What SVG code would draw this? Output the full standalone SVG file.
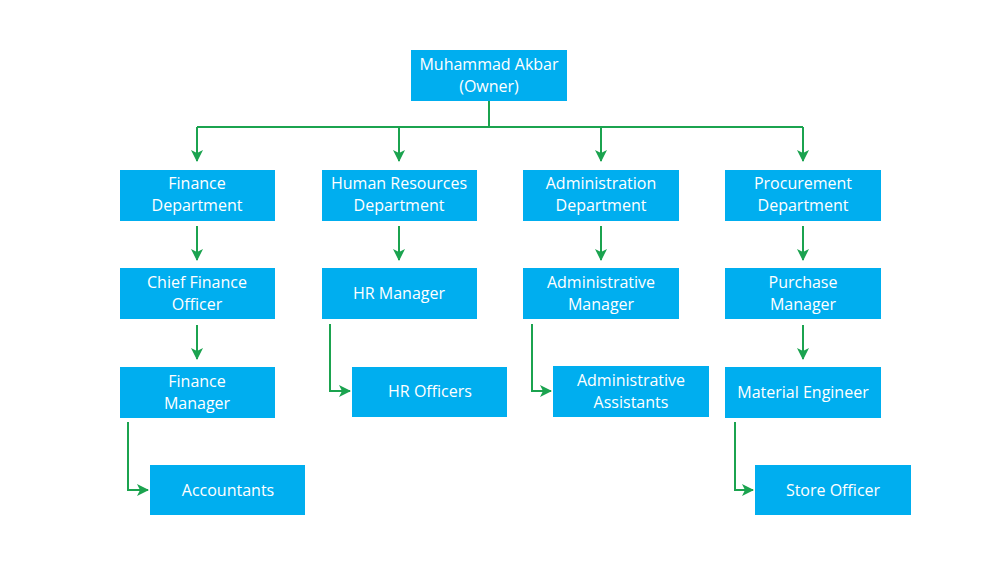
<svg xmlns="http://www.w3.org/2000/svg" width="1000" height="573" viewBox="0 0 1000 573">
<style>
.b{fill:#00AEEF}
text{fill:#fff;font-family:"Open Sans","Liberation Sans",sans-serif;font-size:16px;text-anchor:middle}
.c{fill:none;stroke:#1BA34F;stroke-width:2}
</style>
<defs><marker id="a" viewBox="0 0 12 12" refX="11" refY="6" markerWidth="12" markerHeight="12" markerUnits="userSpaceOnUse" orient="auto"><path d="M0,0 L12,6 L0,12 L3,6 Z" fill="#1BA34F"/></marker></defs>
<rect width="1000" height="573" fill="#fff"/>
<g id="connectors">
<path class="c" d="M489,101 V127 M197,127 H803"/>
<path class="c" marker-end="url(#a)" d="M197,127 V161"/>
<path class="c" marker-end="url(#a)" d="M399,127 V161"/>
<path class="c" marker-end="url(#a)" d="M601,127 V161"/>
<path class="c" marker-end="url(#a)" d="M803,127 V161"/>
<path class="c" marker-end="url(#a)" d="M197,226 V260"/>
<path class="c" marker-end="url(#a)" d="M399,226 V260"/>
<path class="c" marker-end="url(#a)" d="M601,226 V260"/>
<path class="c" marker-end="url(#a)" d="M803,226 V260"/>
<path class="c" marker-end="url(#a)" d="M197,325 V359"/>
<path class="c" marker-end="url(#a)" d="M803,325 V359"/>
<path class="c" marker-end="url(#a)" d="M330,324 V391 H350"/>
<path class="c" marker-end="url(#a)" d="M532,324 V391 H551"/>
<path class="c" marker-end="url(#a)" d="M128,422 V490 H148"/>
<path class="c" marker-end="url(#a)" d="M735,422 V490 H753"/>
</g>
<g id="owner"><rect class="b" x="411" y="50" width="156" height="51"/><text x="489" y="70">Muhammad Akbar</text><text x="489" y="92">(Owner)</text></g>
<g id="finance"><rect class="b" x="120" y="170" width="155" height="51"/><text x="197" y="189">Finance</text><text x="197" y="211">Department</text></g>
<g id="hr"><rect class="b" x="322" y="170" width="155" height="51"/><text x="399" y="189">Human Resources</text><text x="399" y="211">Department</text></g>
<g id="admin"><rect class="b" x="523" y="170" width="156" height="51"/><text x="601" y="189">Administration</text><text x="601" y="211">Department</text></g>
<g id="proc"><rect class="b" x="725" y="170" width="156" height="51"/><text x="803" y="189">Procurement</text><text x="803" y="211">Department</text></g>
<g id="cfo"><rect class="b" x="120" y="268" width="155" height="51"/><text x="197" y="288">Chief Finance</text><text x="197" y="310">Officer</text></g>
<g id="hrm"><rect class="b" x="322" y="268" width="155" height="51"/><text x="399" y="299">HR Manager</text></g>
<g id="adm"><rect class="b" x="523" y="268" width="156" height="51"/><text x="601" y="288">Administrative</text><text x="601" y="310">Manager</text></g>
<g id="pm"><rect class="b" x="725" y="268" width="156" height="51"/><text x="803" y="288">Purchase</text><text x="803" y="310">Manager</text></g>
<g id="fm"><rect class="b" x="120" y="367" width="155" height="51"/><text x="197" y="387">Finance</text><text x="197" y="409">Manager</text></g>
<g id="hro"><rect class="b" x="352" y="367" width="155" height="50"/><text x="430" y="397">HR Officers</text></g>
<g id="aa"><rect class="b" x="553" y="366" width="156" height="51"/><text x="631" y="386">Administrative</text><text x="631" y="408">Assistants</text></g>
<g id="me"><rect class="b" x="725" y="367" width="156" height="51"/><text x="803" y="398">Material Engineer</text></g>
<g id="acc"><rect class="b" x="150" y="465" width="155" height="50"/><text x="228" y="496">Accountants</text></g>
<g id="so"><rect class="b" x="755" y="465" width="156" height="50"/><text x="833" y="496">Store Officer</text></g>
</svg>
